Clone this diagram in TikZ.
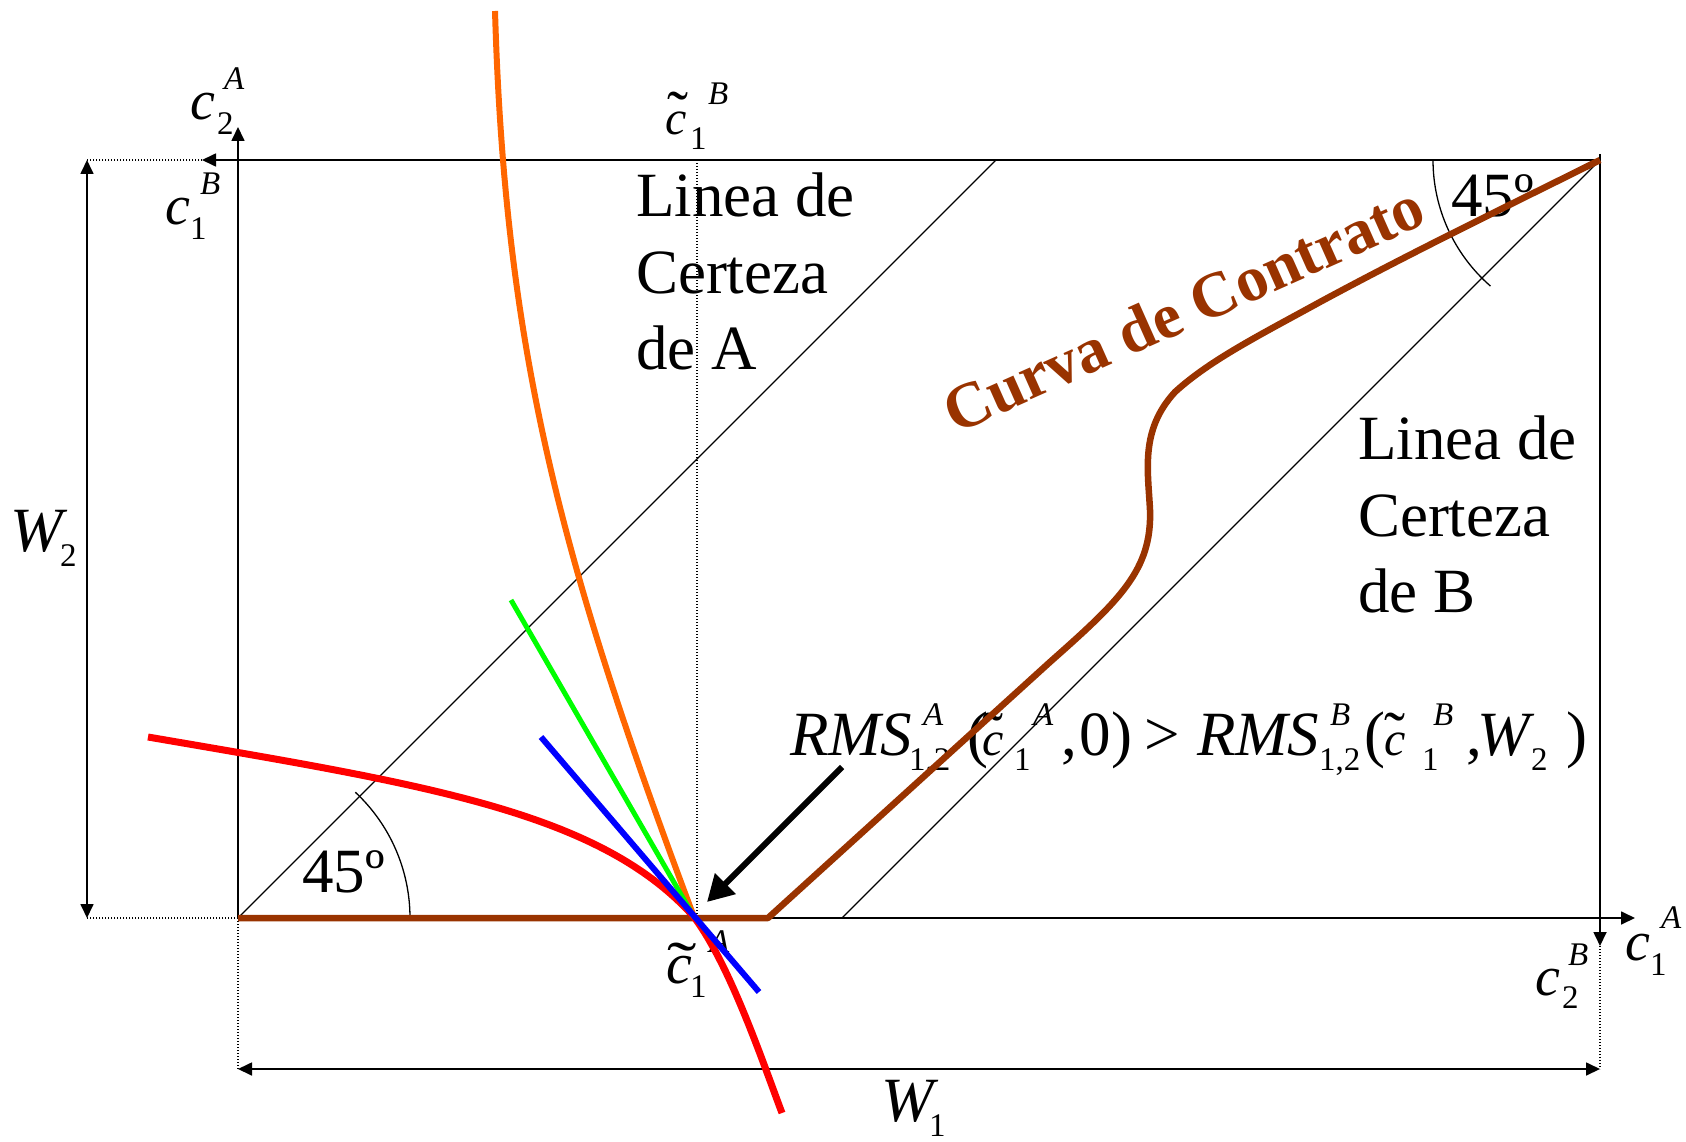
\documentclass[tikz,border=0pt]{standalone}
\usepackage{fontspec}
\usepackage{graphicx}
\setmainfont{Liberation Serif}
\usetikzlibrary{arrows.meta}
\definecolor{brn}{HTML}{993300}
\definecolor{org}{HTML}{FF6600}
\definecolor{grn}{HTML}{00FF00}
\newcommand\pc[3]{\rlap{\hspace*{#1pt}\raisebox{#2pt}{#3}}}
\newcommand\fbig{\fontsize{63}{76.5}\selectfont}
\newcommand\fcc{\fontsize{56}{62}\selectfont\itshape}
\newcommand\fcs{\fontsize{48}{54}\selectfont\itshape}
\newcommand\fsm{\fontsize{33}{38}\selectfont}
\tikzset{
  axisline/.style={line width=1.7pt, -{Triangle[length=14pt,width=13pt]}},
  dimline/.style={line width=1.7pt, {Triangle[length=14pt,width=13pt]}-{Triangle[length=14pt,width=13pt]}},
  dotline/.style={line width=1.3pt, dash pattern=on 1.3pt off 1.7pt},
  thinline/.style={line width=1.3pt},
  lbl/.style={inner sep=0pt, outer sep=0pt, anchor=base west},
  txtblock/.style={inner sep=0pt, outer sep=0pt, anchor=north west, align=left, font=\fbig},
  curve/.style={line width=6.5pt, line join=round},
}
\begin{document}
\begin{tikzpicture}[x=1pt,y=-1pt]
\useasboundingbox (0,0) rectangle (1686,1142);
% key points
\coordinate (O) at (238,918);
\coordinate (TR) at (1600,160);
\coordinate (TRt) at (1600,154);
\coordinate (yA) at (238,127);
\coordinate (xA) at (1635,918);
\coordinate (xB) at (202,160);
\coordinate (yB) at (1600,946);
\coordinate (dL) at (87,160);
\coordinate (dLb) at (87,918);
\coordinate (dO) at (238,1069);
\coordinate (dR) at (1600,1069);
\coordinate (cBt) at (697,160);
\coordinate (cBb) at (697,918);
\coordinate (dA) at (996,160);
\coordinate (dB) at (842,918);
\coordinate (T) at (694,917);
\coordinate (K) at (768,918);
\coordinate (arcA) at (410,918);
\coordinate (arcB) at (1433,160);
\coordinate (g1) at (511,600);
\coordinate (b1) at (541,737);
\coordinate (b2) at (759,992);
\coordinate (o1) at (495,11);
\coordinate (r1) at (148,737);
\coordinate (r2) at (782,1113);
\coordinate (k1) at (842,767);
\coordinate (k2) at (707,902);
% dotted guides
\draw[dotline] (xB) -- (dL);
\draw[dotline] (O) -- (dLb);
\draw[dotline] (O) -- (dO);
\draw[dotline] (yB) -- (dR);
\draw[dotline] (cBt) -- (cBb);
% dimension arrows
\draw[dimline] (dL) -- (dLb);
\draw[dimline] (dO) -- (dR);
% axes / box
\draw[axisline] (O) -- (yA);
\draw[axisline] (O) -- (xA);
\draw[axisline] (TR) -- (xB);
\draw[axisline] (TRt) -- (yB);
% certainty lines
\draw[thinline] (O) -- (dA);
\draw[thinline] (TR) -- (dB);
% angle arcs
\draw[thinline] (arcA) arc[start angle=0, end angle=47, radius=172pt];
\draw[thinline] (arcB) arc[start angle=180, end angle=229, radius=167pt];
% texts
\node[txtblock] (lcA) at (636,173) {Linea de\\Certeza\\de A};
\node[txtblock] (lcB) at (1358,416) {Linea de\\Certeza\\de B};
\node[lbl, font=\fbig] (ang1) at (302,892) {45º};
\node[lbl, font=\fbig] (ang2) at (1451,217) {45º};
\node[lbl, rotate=24, font=\fontsize{64}{70}\selectfont\bfseries, text=brn] (curva) at (955,434) {Curva de Contrato};
% axis labels
\node[lbl] (c2A) at (190,120) {\pc{0}{0}{\fcc c}\pc{27}{-15}{\fsm 2}\pc{34}{30}{\fsm\itshape A}\hspace*{60pt}};
\node[lbl] (c1B) at (165,225) {\pc{0}{0}{\fcc c}\pc{25}{-15}{\fsm 1}\pc{35}{30}{\fsm\itshape B}\hspace*{58pt}};
\node[lbl] (tc1B) at (665,135) {\pc{0}{0}{\fcs c}\pc{2}{0}{\fbig ˜}\pc{25}{-15}{\fsm 1}\pc{43}{30}{\fsm\itshape B}\hspace*{65pt}};
\node[lbl] (tc1A) at (666,983) {\pc{0}{0}{\fontsize{58}{64}\selectfont\itshape c}\pc{1}{-2}{\scalebox{1.4}[1]{\fbig ˜}}\pc{24}{-14}{\fsm 1}\pc{43}{31}{\fsm\itshape A}\hspace*{65pt}};
\node[lbl] (c1A) at (1625,960) {\pc{0}{0}{\fcc c}\pc{25}{-15}{\fsm 1}\pc{36}{32}{\fsm\itshape A}\hspace*{60pt}};
\node[lbl] (c2B) at (1535,995) {\pc{0}{0}{\fcc c}\pc{27}{-13}{\fsm 2}\pc{33}{30}{\fsm\itshape B}\hspace*{60pt}};
\node[lbl] (W2) at (10,551) {\pc{0}{0}{\fbig\itshape W}\pc{50}{-15}{\fsm 2}\hspace*{68pt}};
\node[lbl] (W1) at (881,1121) {\pc{0}{0}{\fbig\itshape W}\pc{48}{-15}{\fsm 1}\hspace*{66pt}};
% formula
\node[lbl] (rms) at (790,755) {%
\pc{0}{0}{\fbig\itshape RMS}%
\pc{133}{30}{\fsm\itshape A}%
\pc{119}{-15}{\fsm 1,2}%
\pc{177}{0}{\fbig (}%
\pc{192}{0}{\fcs c}%
\pc{192}{0}{\fbig ˜}%
\pc{224}{-15}{\fsm 1}%
\pc{243}{30}{\fsm\itshape A}%
\pc{271}{0}{\fbig ,}%
\pc{290}{0}{\fbig 0}%
\pc{322}{0}{\fbig )}%
\pc{355}{0}{\fbig >}%
\pc{407}{0}{\fbig\itshape RMS}%
\pc{540}{30}{\fsm\itshape B}%
\pc{529}{-15}{\fsm 1,2}%
\pc{574}{0}{\fbig (}%
\pc{594}{0}{\fcs c}%
\pc{594}{0}{\fbig ˜}%
\pc{632}{-15}{\fsm 1}%
\pc{643}{30}{\fsm\itshape B}%
\pc{676}{0}{\fbig ,}%
\pc{687}{0}{\fbig\itshape W}%
\pc{741}{-15}{\fsm 2}%
\pc{776}{0}{\fbig )}%
\hspace*{796pt}};
% contract curve
\draw[curve, brn] (O) -- (K) -- (1050,662)
  .. controls (1120,600) and (1152,570) .. (1150,510)
  .. controls (1148,470) and (1140,430) .. (1175,392)
  .. controls (1210,360) and (1260,335) .. (1320,302)
  .. controls (1420,248) and (1520,200) .. (TR);
% indifference curves and tangents
\draw[curve, red, line width=7pt] (r1) .. controls (428,785) and (600,812) .. (T)
  .. controls (730,965) and (762,1060) .. (r2);
\draw[curve, org, line width=6pt] (o1) .. controls (505,350) and (560,560) .. (T);
\draw[curve, grn, line width=5pt] (g1) -- (T);
\draw[curve, blue, line width=6pt] (b1) -- (b2);
% pointer arrow
\draw[line width=6pt, -{Triangle[length=26pt,width=28pt]}] (k1) -- (k2);
\end{tikzpicture}
\end{document}
